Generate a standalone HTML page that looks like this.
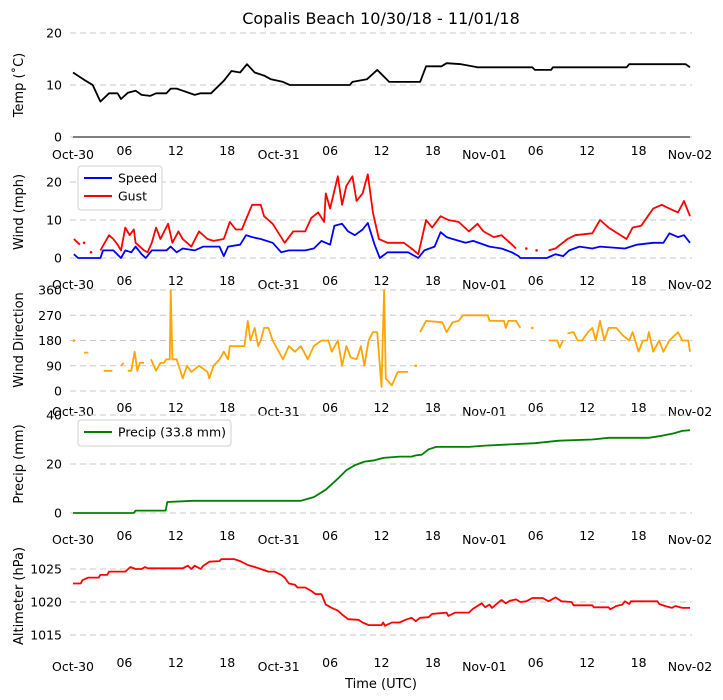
<!DOCTYPE html>
<html><head><meta charset="utf-8"><style>
html,body{margin:0;padding:0;background:#fff;}
svg{display:block;font-family:"DejaVu Sans","Liberation Sans",sans-serif;}
</style></head><body>
<svg id="chart" width="723" height="700" viewBox="0 0 723 700" xmlns="http://www.w3.org/2000/svg">
<text x="381" y="24" font-size="16" text-anchor="middle">Copalis Beach 10/30/18 - 11/01/18</text>
<text x="381" y="688" font-size="13" text-anchor="middle">Time (UTC)</text>
</svg>
<script>
const xTickHours = [0,6,12,18,24,30,36,42,48,54,60,66,72];
const xTickLabels = ["Oct-30","06","12","18","Oct-31","06","12","18","Nov-01","06","12","18","Nov-02"];

const tempT = [0,1.3,2.3,3.2,4.2,5.2,5.6,6.4,7.3,8.0,9.0,9.7,10.9,11.4,12.1,12.8,14.2,14.9,16.1,17.6,18.5,19.5,20.3,21.2,22.3,23.1,24.5,25.3,32.3,32.6,34.3,35.5,36.9,40.5,41.2,43.0,43.6,45.3,47.2,53.6,53.9,55.8,56.0,64.6,64.9,71.5,72];
const tempV = [12.4,11,10,6.8,8.4,8.4,7.3,8.5,8.9,8.1,7.9,8.4,8.4,9.3,9.3,8.9,8.1,8.4,8.4,10.8,12.7,12.4,14,12.4,11.8,11.1,10.6,10,10,10.6,11.1,12.9,10.6,10.6,13.6,13.6,14.2,14,13.4,13.4,12.9,12.9,13.4,13.4,14,14,13.4];

const speedT = [0.1,0.6,3.2,3.5,4.7,5.6,6.1,6.8,7.3,8.0,8.5,9.2,10.9,11.4,12.1,12.8,14.2,15.2,17.1,17.6,18.1,19.5,20.2,20.9,21.9,23.3,24.3,25.2,27.1,28.1,29.0,30.0,30.5,31.4,32.1,32.9,33.8,34.4,35.2,35.8,36.7,39.1,40.3,41.0,42.2,42.9,43.6,44.3,45.8,46.7,48.6,50.0,51.2,52.0,52.2,55.3,56.3,57.2,57.9,59.1,60.6,61.5,64.4,65.8,67.7,68.9,69.6,70.6,71.3,72];
const speedV = [1,0,0,2,2,0,2,1.5,3,1,0,2,2,3,1.5,2.5,2,3,3,0.5,3,3.5,6,5.5,5,4,1.5,2,2,2.5,4.5,3.5,8.5,9,7,6,7.5,9.2,3.5,0,1.5,1.5,0,2,3,6.8,5.5,5,4,4.5,3,2.5,1.5,0.5,0,0,1,0.5,2,3,2.5,3,2.5,3.5,4,4,6.5,5.5,6,4];

const gustT = [0.1,0.8,1.0,1.3,1.6,2.1,2.5,3.2,3.7,4.2,4.7,5.2,5.6,6.1,6.6,7.1,7.3,7.8,8.3,8.7,9.2,9.7,10.2,11.1,11.6,12.3,12.8,13.8,14.7,15.7,16.4,17.6,18.3,19.0,19.7,20.9,21.9,22.3,23.3,24.7,25.7,27.1,27.8,28.6,29.3,29.5,30.0,30.9,31.4,31.9,32.6,33.1,33.8,34.4,35.0,35.7,36.7,38.6,39.5,40.3,41.2,41.9,42.9,43.8,45.0,46.2,47.2,47.9,49.1,50.0,51.0,51.7,52.2,52.9,53.3,54.1,54.5,55.5,56.3,57.7,58.6,60.6,61.5,62.5,63.9,64.6,65.3,66.3,67.7,68.7,69.6,70.6,71.3,72];
const gustV = [5,3.5,null,4,null,1.5,null,2,4,6,5,3.5,2,8,6,7.5,4,3,2,1.5,4,8,5,9,4,7,5,3,7,5,4.5,5,9.5,7.5,7.5,14,14,11,9,4,7,7,10.5,12,9.5,17,13,21.5,14,19,21.5,15,17,22,12,5,4,4,2.5,1,10,8,11,10,9.5,7,9,7,5.5,6,4,2.5,null,2.5,null,2,null,2,2.5,5,6,6.5,10,8,6,5,8,8.5,13,14,13,12,15,11];

const dirT = [0.1,0.5,1.3,1.8,2.2,3.6,4.6,5.0,5.6,5.9,6.2,6.4,6.8,7.2,7.5,7.8,8.3,8.7,9.1,9.7,10.2,10.6,10.9,11.3,11.4,11.6,12.1,12.8,13.3,13.8,14.7,15.7,15.9,16.4,17.1,17.6,18.1,18.3,19.2,20.0,20.4,20.7,21.2,21.6,21.9,22.3,22.8,23.3,24.5,25.2,25.9,26.6,27.4,28.1,29.0,29.8,30.2,30.9,31.4,31.9,32.4,33.1,33.6,34.0,34.5,35.0,35.5,36.0,36.3,36.5,37.2,37.9,39.1,39.5,40.0,40.2,40.5,41.2,43.1,43.6,44.3,45.0,45.5,48.4,48.6,50.3,50.5,50.8,51.7,52.2,52.6,53.6,54.0,55.5,56.5,56.8,57.2,57.5,57.7,58.4,58.9,59.4,60.1,60.6,61.0,61.5,62.0,62.5,63.4,64.1,64.9,65.3,66.0,66.5,67.0,67.2,67.7,68.4,68.9,69.6,70.6,71.1,71.8,72];
const dirV = [180,null,137,137,null,72,72,null,90,100,null,72,72,140,72,100,100,null,113,72,100,100,113,113,360,113,113,45,90,68,90,68,45,90,113,140,113,160,160,160,250,180,225,160,180,225,225,180,113,160,140,160,113,160,180,180,140,180,90,160,120,113,160,90,180,210,210,15,360,45,20,68,68,null,90,null,210,250,245,210,245,250,270,270,250,250,225,250,250,225,null,225,null,180,180,155,180,null,205,210,180,180,210,225,180,250,180,225,225,200,180,210,140,180,180,210,140,180,140,180,210,180,180,140];

const precipT = [0,7.1,7.3,10.8,11.0,14.0,26.6,28.1,29.5,30.9,31.9,32.9,34.0,35.2,36.2,38.1,39.5,40.0,40.7,41.5,42.4,46.2,48.1,51.0,53.9,56.7,60.6,62.5,67.2,68.7,70.1,71.1,72];
const precipV = [0,0,1,1,4.5,5,5,6.5,9.5,14,17.5,19.5,21,21.5,22.5,23,23,23.5,23.8,26,27,27,27.5,28,28.5,29.5,30,30.7,30.7,31.5,32.5,33.5,33.8];

const altT = [0,0.9,1.1,1.8,3.0,3.2,4.0,4.2,6.1,6.7,7.3,8.0,8.4,8.7,12.8,13.4,13.8,14.2,14.9,15.2,15.9,17.1,17.3,18.8,19.5,20.4,21.2,21.9,22.8,23.5,24.3,24.7,25.2,25.9,26.2,27.1,27.8,28.3,29.0,29.5,30.2,30.9,31.4,32.1,33.3,33.8,34.5,36.0,36.2,36.4,37.2,38.1,38.8,39.5,40.0,40.5,41.5,41.9,42.9,43.6,43.8,44.6,46.2,46.7,47.7,48.1,48.6,48.9,49.6,50.0,50.5,51.0,51.7,52.2,52.9,53.6,54.8,55.5,56.3,57.0,58.2,58.4,60.6,60.8,62.5,62.7,63.4,64.1,64.4,64.9,65.1,68.2,68.4,69.1,69.9,70.3,71.1,72];
const altV = [1022.8,1022.8,1023.3,1023.7,1023.7,1024.1,1024.1,1024.6,1024.6,1025.3,1025,1025,1025.3,1025.1,1025.1,1025.5,1025,1025.5,1025,1025.5,1026.1,1026.2,1026.5,1026.5,1026.2,1025.6,1025.3,1025,1024.6,1024.6,1024.1,1023.7,1022.8,1022.6,1022.2,1022.2,1021.7,1021.2,1021.2,1019.6,1019.1,1018.7,1018.1,1017.4,1017.3,1016.9,1016.5,1016.5,1016.9,1016.4,1016.9,1016.9,1017.3,1017.6,1017.1,1017.6,1017.7,1018.2,1018.3,1018.4,1017.9,1018.4,1018.4,1019,1019.8,1019.2,1019.6,1019.1,1019.9,1020.3,1019.8,1020.2,1020.4,1020,1020.1,1020.6,1020.6,1020.1,1020.7,1020.1,1020,1019.5,1019.5,1019.2,1019.2,1018.9,1019.4,1019.6,1020.1,1019.7,1020.1,1020.1,1019.7,1019.4,1019.1,1019.4,1019.1,1019.1];

const tempTicks = [0,10,20];
const windTicks = [0,10,20];
const dirTicks = [0,90,180,270,360];
const precipTicks = [0,20,40];
const altTicks = [1015,1020,1025];

const NS = "http://www.w3.org/2000/svg";
const svg = document.getElementById('chart');
const X0 = 73, X1 = 690;
function xs(h){ return X0 + (h/72)*(X1-X0); }
function lin(d0,d1,p0,p1){ return v => p0 + (v-d0)/(d1-d0)*(p1-p0); }
function mk(tag, attrs){ const e=document.createElementNS(NS,tag); for(const k in attrs) e.setAttribute(k,attrs[k]); svg.appendChild(e); return e; }

function panel(name, ticks, ys, xLabelY, ylab, ylabY){
  ticks.forEach(t=>{
    const g = mk('line',{x1:70,x2:692,y1:ys(t),y2:ys(t),stroke:'#c8c8c8','stroke-width':1,'stroke-dasharray':'6,4'});
    
    
    const tl = mk('text',{x:62,y:ys(t)+4.5,'font-size':12.5,'text-anchor':'end'});
    tl.textContent = t;
    
    
  });
  xTickHours.forEach((h,i)=>{
    const isDay = xTickLabels[i].length>2;
    const tl = mk('text',{x:xs(h),y:xLabelY+(isDay?4:0),'font-size':12.5,'text-anchor':'middle'});
    tl.textContent = xTickLabels[i];
    
    
  });
  const yl = mk('text',{x:0,y:0,'font-size':13,'text-anchor':'middle',transform:`translate(23,${ylabY}) rotate(-90)`});
  yl.textContent = ylab;
  
  
}

function series(name, T, V, ys, color){
  let d='', pen=false;
  const pts=[];
  for(let i=0;i<T.length;i++){
    if(V[i]===null||V[i]===undefined){ pen=false; continue; }
    const x=xs(T[i]), y=ys(V[i]);
    d += (pen?'L':'M')+x.toFixed(1)+','+y.toFixed(1);
    pen=true;
    const prevNull = i===0 || V[i-1]===null;
    const nextNull = i===T.length-1 || V[i+1]===null;
    if(prevNull && nextNull) pts.push([x,y]);
  }
  const p = mk('path',{d:d,fill:'none',stroke:color,'stroke-width':1.8,'stroke-linejoin':'round'});
  
  
  pts.forEach(q=>{
    const c = mk('circle',{cx:q[0],cy:q[1],r:1.3,fill:color});
    
    
  });
}

// Temp
const yT = lin(0,20,137,33);
panel('temp', tempTicks, yT, 155, 'Temp (˚C)', 85);
const ax = mk('line',{x1:73,x2:690,y1:137,y2:137,stroke:'#000','stroke-width':1});


series('temp', tempT, tempV, yT, '#000');

// Wind
const yW = lin(0,20,258,182);
panel('wind', windTicks, yW, 285, 'Wind (mph)', 212);
series('speed', speedT, speedV, yW, '#0000ff');
series('gust', gustT, gustV, yW, '#ff0000');

// Direction
const yD = lin(0,360,391,290);
panel('direction', dirTicks, yD, 412, 'Wind Direction', 340);
series('direction', dirT, dirV, yD, '#ffa500');

// Precip
const yP = lin(0,40,513,415);
panel('precip', precipTicks, yP, 540, 'Precip (mm)', 464);
series('precip', precipT, precipV, yP, '#008000');

// Altimeter
const yA = lin(1015,1025,635,569);
panel('altimeter', altTicks, yA, 667, 'Altimeter (hPa)', 596);
series('altimeter', altT, altV, yA, '#ff0000');

// Legends
function legend(name, x, y, w, entries){
  const r = mk('rect',{x:x,y:y,width:w,height:entries.length*18+8,rx:3,fill:'#fff',stroke:'#d0d0d0','stroke-width':1});
  
  
  entries.forEach((e,i)=>{
    const cy = y+12+i*18;
    const l = mk('line',{x1:x+6,x2:x+34,y1:cy,y2:cy,stroke:e[1],'stroke-width':2});
    
    
    const t = mk('text',{x:x+40,y:cy+4.5,'font-size':12.5});
    t.textContent = e[0];
    
    
  });
}
legend('wind-legend', 78, 166, 84, [['Speed','#0000ff'],['Gust','#ff0000']]);
legend('precip-legend', 78, 420, 153, [['Precip (33.8 mm)','#008000']]);
</script>
</body></html>
